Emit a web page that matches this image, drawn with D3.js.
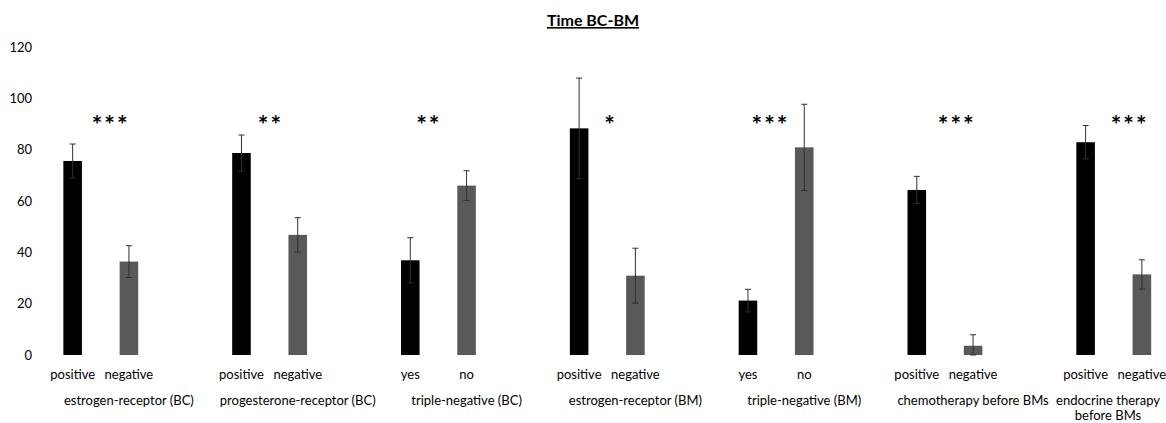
<!DOCTYPE html>
<html>
<head>
<meta charset="utf-8">
<script src="https://cdn.jsdelivr.net/npm/d3@7"></script>
<style>
  body { margin: 0; background: #fff; }
  text { font-family: Lato, "Open Sans", sans-serif; fill: #000; }
</style>
</head>
<body>
<div id="chart"></div>
<script>
  // Data

  var categories = ["estrogen-receptor (BC)", "progesterone-receptor (BC)", "triple-negative (BC)",
    "estrogen-receptor (BM)", "triple-negative (BM)", "chemotherapy before BMs", "endocrine therapy before BMs"];
  var labelsA = ["positive", "positive", "yes", "positive", "yes", "positive", "positive"];
  var labelsB = ["negative", "negative", "no", "negative", "no", "negative", "negative"];
  var valuesA = [75.6, 78.7, 36.9, 88.3, 21.2, 64.3, 82.9];
  var errorsA = [6.6, 7.0, 8.8, 19.6, 4.4, 5.3, 6.5];
  var valuesB = [36.4, 46.8, 66.0, 30.9, 80.9, 3.6, 31.4];
  var errorsB = [6.2, 6.7, 5.8, 10.7, 16.8, 4.3, 5.7];
  var stars = ["***", "**", "**", "*", "***", "***", "***"];
  var yTicks = [0, 20, 40, 60, 80, 100, 120];

  var width = 1166,
      height = 423;

  var svg = d3.select("#chart")
    .append("svg")
    .attr("width", width)
    .attr("height", height);

  // scales
  var xScale = d3.scaleBand()
    .domain(categories)
    .range([44.5, 44.5 + 168.83 * categories.length]);

  // three slots per category, the third one left empty
  var xScale1 = d3.scaleBand()
    .domain(["a", "b", "gap"])
    .range([0, xScale.bandwidth()]);

  var yScale = d3.scaleLinear()
    .domain([0, 120])
    .range([355, 47]);

  var barW = xScale1.bandwidth() * 0.33;

  // y axis (labels only)
  var yAxis = svg.append("g")
    .attr("transform", "translate(34, 0)")
    .call(d3.axisLeft(yScale).tickValues(yTicks).tickSize(0).tickPadding(2));
  yAxis.select(".domain").remove();
  yAxis.selectAll("text")
    .attr("font-size", "13px")
    .style("font-family", "Lato, 'Open Sans', sans-serif");

  // title
  svg.append("text")
    .attr("x", 593)
    .attr("y", 26)
    .attr("text-anchor", "middle")
    .attr("font-size", "16px")
    .attr("font-weight", "bold")
    .attr("text-decoration", "underline")
    .text("Time BC-BM");

  var rows = categories.map(function(c, i) {
    return {cat: c, a: valuesA[i], ea: errorsA[i], b: valuesB[i], eb: errorsB[i],
      la: labelsA[i], lb: labelsB[i], star: stars[i]};
  });

  var group = svg.selectAll(".group")
    .data(rows)
    .enter().append("g")
    .attr("class", "group")
    .attr("transform", function(d) { return `translate(${xScale(d.cat)}, 0)`; });

  var series = [
    {key: "a", val: "a", err: "ea", lab: "la", fill: "#000000"},
    {key: "b", val: "b", err: "eb", lab: "lb", fill: "#595959"}
  ];

  series.forEach(function(s) {
    var cx = xScale1(s.key) + xScale1.bandwidth() / 2;

    group.append("rect")
      .attr("x", cx - barW / 2)
      .attr("y", function(d) { return yScale(d[s.val]); })
      .attr("width", barW)
      .attr("height", function(d) { return yScale(0) - yScale(d[s.val]); })
      .attr("fill", s.fill);

    // error bars
    group.append("line")
      .attr("x1", cx).attr("x2", cx)
      .attr("y1", function(d) { return yScale(d[s.val] + d[s.err]); })
      .attr("y2", function(d) { return yScale(Math.max(d[s.val] - d[s.err], 0)); })
      .attr("stroke", "#303030")
      .attr("stroke-width", 1);

    [1, -1].forEach(function(sign) {
      group.append("line")
        .attr("x1", cx - 3).attr("x2", cx + 3)
        .attr("y1", function(d) { return yScale(Math.max(d[s.val] + sign * d[s.err], 0)); })
        .attr("y2", function(d) { return yScale(Math.max(d[s.val] + sign * d[s.err], 0)); })
        .attr("stroke", "#303030")
        .attr("stroke-width", 1);
    });

    group.append("text")
      .attr("x", cx)
      .attr("y", 379)
      .attr("text-anchor", "middle")
      .attr("font-size", "13px")
      .text(function(d) { return d[s.lab]; });
  });

  // significance stars, placed by hand in the original
  var starShift = [38, 29, 18.5, 31.5, 22.5, 40, 44];
  group.append("text")
    .attr("x", function(d, i) { return xScale1("a") + xScale1.bandwidth() / 2 + starShift[i]; })
    .attr("y", 134)
    .attr("text-anchor", "middle")
    .attr("font-size", "25px")
    .attr("font-weight", "bold")
    .attr("letter-spacing", "2px")
    .text(function(d) { return d.star; });

  // category labels; a label that would run off the right edge is wrapped and pulled inside
  var catLabel = svg.selectAll(".cat")
    .data(rows)
    .enter().append("text")
    .attr("class", "cat")
    .attr("text-anchor", "middle")
    .attr("font-size", "13px")
    .attr("y", 405);

  catLabel.each(function(d) {
    var t = d3.select(this);
    var cx = xScale(d.cat) + xScale1("b") + xScale1.bandwidth() / 2;
    t.text(d.cat);
    var full = this.getComputedTextLength();
    var lines = [d.cat];
    if (cx + full / 2 > width - 6) {
      var limit = xScale.step() * 0.7;
      var line = [];
      lines = [];
      d.cat.split(" ").forEach(function(w) {
        t.text(line.concat(w).join(" "));
        if (line.length && this.getComputedTextLength() > limit) {
          lines.push(line.join(" "));
          line = [w];
        } else {
          line.push(w);
        }
      }, this);
      lines.push(line.join(" "));
    }
    t.text(null);
    var maxW = 0;
    lines.forEach(function(l, k) {
      var ts = t.append("tspan").attr("dy", k ? 14.5 : 0).text(l);
      maxW = Math.max(maxW, ts.node().getComputedTextLength());
    });
    cx = Math.min(cx, width - maxW / 2 - 6);
    t.selectAll("tspan").attr("x", cx);
  });
</script>
</body>
</html>
